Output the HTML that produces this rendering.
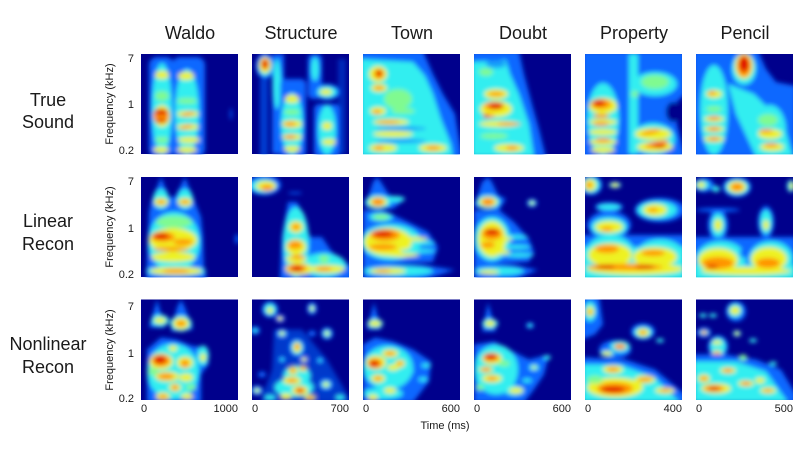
<!DOCTYPE html>
<html><head><meta charset="utf-8"><style>
html,body{margin:0;padding:0;background:#fff}
svg{display:block}
.b{fill:#0868ff}.c{fill:#32eef0}.g{fill:#80fa90}.y{fill:#eef224}.o{fill:#ff9400}.r{fill:#e01000}
text{font-family:"Liberation Sans",Arial,sans-serif;fill:#1a1a1a}
.t{font-size:18px;text-anchor:middle}
.k{font-size:11px;text-anchor:end}
.x{font-size:11px}
</style></head><body>
<svg width="800" height="454" viewBox="0 0 800 454" xmlns="http://www.w3.org/2000/svg">
<defs>
<clipPath id="cp"><rect x="0" y="0" width="97" height="100.5"/></clipPath>
<filter id="bl" x="-20%" y="-20%" width="140%" height="140%"><feGaussianBlur stdDeviation="2.4"/></filter>
</defs>
<rect width="800" height="454" fill="#fff"/>

<!-- titles -->
<text class="t" x="190" y="39">Waldo</text>
<text class="t" x="301" y="39">Structure</text>
<text class="t" x="412" y="39">Town</text>
<text class="t" x="523" y="39">Doubt</text>
<text class="t" x="634" y="39">Property</text>
<text class="t" x="745" y="39">Pencil</text>

<!-- row labels -->
<text class="t" x="48" y="106">True</text>
<text class="t" x="48" y="128">Sound</text>
<text class="t" x="48" y="227">Linear</text>
<text class="t" x="48" y="250">Recon</text>
<text class="t" x="48" y="350">Nonlinear</text>
<text class="t" x="48" y="373">Recon</text>

<!-- y axis labels -->
<text class="x" text-anchor="middle" transform="translate(113,104) rotate(-90)">Frequency (kHz)</text>
<text class="x" text-anchor="middle" transform="translate(113,227) rotate(-90)">Frequency (kHz)</text>
<text class="x" text-anchor="middle" transform="translate(113,350) rotate(-90)">Frequency (kHz)</text>
<text class="k" x="134" y="62">7</text><text class="k" x="134" y="108">1</text><text class="k" x="134" y="154">0.2</text>
<text class="k" x="134" y="185">7</text><text class="k" x="134" y="232">1</text><text class="k" x="134" y="278">0.2</text>
<text class="k" x="134" y="310">7</text><text class="k" x="134" y="357">1</text><text class="k" x="134" y="402">0.2</text>

<!-- x tick labels -->
<text class="x" x="141" y="412">0</text><text class="k" x="238" y="412">1000</text>
<text class="x" x="252" y="412">0</text><text class="k" x="349" y="412">700</text>
<text class="x" x="363" y="412">0</text><text class="k" x="460" y="412">600</text>
<text class="x" x="474" y="412">0</text><text class="k" x="571" y="412">600</text>
<text class="x" x="585" y="412">0</text><text class="k" x="682" y="412">400</text>
<text class="x" x="696" y="412">0</text><text class="k" x="793" y="412">500</text>
<text class="x" text-anchor="middle" x="445" y="429">Time (ms)</text>

<!-- ================= ROW 1 ================= -->
<!-- R1P1 Waldo -->
<g transform="translate(141,54)"><rect width="97" height="100" fill="#00008c"/>
<g clip-path="url(#cp)"><g filter="url(#bl)">
<rect class="b" x="8" y="3" width="25" height="100" rx="8"/>
<rect class="b" x="31" y="3" width="33" height="100" rx="8"/>
<ellipse class="c" cx="21" cy="55" rx="10" ry="46"/>
<ellipse class="c" cx="46" cy="58" rx="12" ry="43"/>
<ellipse class="y" cx="21" cy="21" rx="7" ry="4"/>
<ellipse class="g" cx="21" cy="42" rx="7" ry="5"/>
<ellipse class="y" cx="21" cy="62" rx="8" ry="11"/>
<ellipse class="g" cx="21" cy="86" rx="7" ry="3"/>
<ellipse class="y" cx="20" cy="96" rx="8" ry="3"/>
<ellipse class="y" cx="45" cy="22" rx="8" ry="4"/>
<ellipse class="g" cx="46" cy="47" rx="10" ry="3"/>
<ellipse class="y" cx="47" cy="60" rx="11" ry="3"/>
<ellipse class="y" cx="47" cy="73" rx="11" ry="3"/>
<ellipse class="y" cx="48" cy="86" rx="11" ry="3"/>
<ellipse class="y" cx="46" cy="96" rx="10" ry="3"/>
<ellipse class="o" cx="20" cy="62" rx="8" ry="7"/>
<ellipse class="r" cx="20" cy="58" rx="7" ry="3"/>
<ellipse class="r" cx="20" cy="67" rx="6" ry="2"/>
<ellipse class="o" cx="47" cy="60" rx="7" ry="1.6" transform="rotate(-15 47 60)"/>
<ellipse class="o" cx="45" cy="73" rx="7" ry="1.6" transform="rotate(-15 45 73)"/>
<ellipse class="b" cx="90" cy="60" rx="1" ry="6"/>
</g></g></g>

<!-- R1P2 Structure -->
<g transform="translate(252,54)"><rect width="97" height="100" fill="#00008c"/>
<g clip-path="url(#cp)"><g filter="url(#bl)">
<rect class="b" x="8" y="25" width="8" height="78" opacity="0.6"/>
<ellipse class="b" cx="13" cy="12" rx="9" ry="13"/>
<ellipse class="c" cx="13" cy="12" rx="7" ry="10"/>
<ellipse class="y" cx="13" cy="11" rx="6" ry="8"/>
<ellipse class="o" cx="13" cy="10" rx="4" ry="6"/>
<ellipse class="r" cx="13" cy="10" rx="3" ry="4"/>
<rect class="b" x="20" y="0" width="12" height="100"/>
<ellipse class="c" cx="25" cy="30" rx="4" ry="25"/>
<rect class="b" x="28" y="25" width="26" height="78" rx="5"/>
<ellipse class="c" cx="40" cy="70" rx="11" ry="31"/>
<ellipse class="y" cx="40" cy="45" rx="7" ry="4"/>
<ellipse class="g" cx="40" cy="58" rx="8" ry="3"/>
<ellipse class="y" cx="40" cy="70" rx="10" ry="4"/>
<ellipse class="y" cx="40" cy="83" rx="10" ry="3"/>
<ellipse class="y" cx="40" cy="95" rx="8" ry="3"/>
<ellipse class="o" cx="38" cy="70" rx="6" ry="2"/>
<ellipse class="o" cx="38" cy="83" rx="6" ry="2"/>
<rect class="b" x="56" y="0" width="14" height="45" rx="5"/>
<ellipse class="c" cx="63" cy="15" rx="4" ry="12"/>
<ellipse class="b" cx="75" cy="38" rx="13" ry="8"/>
<ellipse class="c" cx="75" cy="38" rx="10" ry="6"/>
<ellipse class="y" cx="74" cy="38" rx="6" ry="3"/>
<rect class="b" x="62" y="50" width="26" height="53" rx="5"/>
<ellipse class="c" cx="75" cy="76" rx="9" ry="25"/>
<ellipse class="y" cx="75" cy="72" rx="5" ry="4"/>
<ellipse class="y" cx="77" cy="88" rx="7" ry="3"/>
<rect class="b" x="86" y="5" width="8" height="95" opacity="0.4"/>
</g></g></g>

<!-- R1P3 Town -->
<g transform="translate(363,54)"><rect width="97" height="100" fill="#00008c"/>
<g clip-path="url(#cp)"><g filter="url(#bl)">
<polygon class="b" points="-3,-3 60,-3 70,20 80,40 92,60 99,103 -3,103"/>
<polygon class="c" points="-3,5 50,8 62,22 70,40 78,65 88,90 90,103 -3,103"/>
<ellipse class="y" cx="15" cy="20" rx="9" ry="8"/>
<ellipse class="y" cx="16" cy="34" rx="8" ry="4"/>
<ellipse class="g" cx="35" cy="45" rx="14" ry="10"/>
<ellipse class="y" cx="15" cy="57" rx="8" ry="4"/>
<ellipse class="g" cx="40" cy="57" rx="12" ry="3"/>
<ellipse class="y" cx="28" cy="68" rx="18" ry="3"/>
<ellipse class="y" cx="30" cy="80" rx="20" ry="3"/>
<ellipse class="y" cx="20" cy="94" rx="14" ry="4"/>
<ellipse class="y" cx="70" cy="94" rx="14" ry="4"/>
<ellipse class="b" cx="38" cy="74.5" rx="25" ry="1.5"/>
<ellipse class="b" cx="38" cy="87" rx="25" ry="1.5"/>
<ellipse class="o" cx="16" cy="20" rx="5" ry="5"/>
<ellipse class="o" cx="16" cy="34" rx="5" ry="2"/>
<ellipse class="o" cx="14" cy="58" rx="4" ry="2"/>
<ellipse class="o" cx="25" cy="68" rx="12" ry="1.5"/>
<ellipse class="o" cx="16" cy="94" rx="5" ry="2"/>
<ellipse class="o" cx="70" cy="94" rx="7" ry="2"/>
<ellipse class="r" cx="16" cy="19" rx="3" ry="3"/>
</g></g></g>

<!-- R1P4 Doubt -->
<g transform="translate(474,54)"><rect width="97" height="100" fill="#00008c"/>
<g clip-path="url(#cp)"><g filter="url(#bl)">
<polygon class="b" points="-3,-3 45,-3 50,20 58,50 65,75 72,103 -3,103"/>
<polygon class="c" points="-3,8 32,6 36,20 45,40 55,70 60,103 -3,103"/>
<ellipse class="b" cx="22" cy="10" rx="10" ry="4" opacity="0.6"/>
<ellipse class="g" cx="12" cy="18" rx="7" ry="4"/>
<ellipse class="y" cx="22" cy="40" rx="12" ry="5"/>
<ellipse class="y" cx="22" cy="55" rx="16" ry="8"/>
<ellipse class="y" cx="25" cy="70" rx="20" ry="3"/>
<ellipse class="g" cx="20" cy="82" rx="14" ry="3"/>
<ellipse class="y" cx="35" cy="94" rx="15" ry="4"/>
<ellipse class="o" cx="22" cy="40" rx="8" ry="2"/>
<ellipse class="o" cx="20" cy="52" rx="10" ry="4"/>
<ellipse class="o" cx="15" cy="62" rx="6" ry="2"/>
<ellipse class="o" cx="35" cy="70" rx="12" ry="1.5"/>
<ellipse class="o" cx="38" cy="94" rx="6" ry="2"/>
<ellipse class="r" cx="22" cy="52" rx="7" ry="3"/>
<ellipse class="r" cx="12" cy="62" rx="3" ry="2"/>
</g></g></g>

<!-- R1P5 Property -->
<g transform="translate(585,54)"><rect width="97" height="100" fill="#00008c"/>
<g clip-path="url(#cp)"><g filter="url(#bl)">
<polygon class="b" points="-3,-3 100,-3 100,40 90,50 92,70 100,103 -3,103"/>
<ellipse fill="#00008c" cx="88" cy="58" rx="7" ry="10"/>
<ellipse class="c" cx="18" cy="65" rx="16" ry="36"/>
<rect class="c" x="44" y="0" width="9" height="100"/>
<ellipse class="c" cx="70" cy="30" rx="22" ry="12"/>
<ellipse class="c" cx="68" cy="85" rx="22" ry="16"/>
<ellipse class="y" cx="18" cy="52" rx="14" ry="8"/>
<ellipse class="y" cx="18" cy="68" rx="14" ry="3"/>
<ellipse class="y" cx="18" cy="78" rx="14" ry="3"/>
<ellipse class="y" cx="18" cy="88" rx="14" ry="3"/>
<ellipse class="y" cx="18" cy="96" rx="12" ry="3"/>
<ellipse class="g" cx="70" cy="28" rx="14" ry="7"/>
<ellipse class="g" cx="50" cy="40" rx="4" ry="3"/>
<ellipse class="y" cx="68" cy="80" rx="18" ry="6"/>
<ellipse class="y" cx="70" cy="93" rx="18" ry="5"/>
<ellipse class="o" cx="16" cy="50" rx="10" ry="5"/>
<ellipse class="o" cx="16" cy="62" rx="8" ry="2"/>
<ellipse class="o" cx="16" cy="70" rx="8" ry="2"/>
<ellipse class="o" cx="18" cy="86" rx="8" ry="2"/>
<ellipse class="o" cx="66" cy="78" rx="10" ry="2" transform="rotate(-12 66 78)"/>
<ellipse class="o" cx="72" cy="90" rx="12" ry="3" transform="rotate(-12 72 90)"/>
<ellipse class="r" cx="14" cy="49" rx="6" ry="3"/>
<ellipse class="r" cx="74" cy="92" rx="7" ry="2"/>
</g></g></g>

<!-- R1P6 Pencil -->
<g transform="translate(696,54)"><rect width="97" height="100" fill="#00008c"/>
<g clip-path="url(#cp)"><g filter="url(#bl)">
<polygon class="b" points="-3,-3 62,-3 70,15 80,28 100,32 100,103 -3,103"/>
<ellipse class="c" cx="18" cy="56" rx="14" ry="45"/>
<ellipse class="c" cx="48" cy="15" rx="12" ry="16"/>
<polygon class="c" points="32,30 58,40 88,70 97,103 60,103 40,60"/>
<ellipse class="c" cx="74" cy="76" rx="16" ry="25"/>
<ellipse class="y" cx="18" cy="40" rx="8" ry="4"/>
<ellipse class="g" cx="18" cy="55" rx="8" ry="3"/>
<ellipse class="y" cx="18" cy="65" rx="10" ry="3"/>
<ellipse class="y" cx="18" cy="75" rx="10" ry="3"/>
<ellipse class="y" cx="18" cy="85" rx="10" ry="3"/>
<ellipse class="y" cx="48" cy="12" rx="9" ry="13"/>
<ellipse class="g" cx="72" cy="66" rx="10" ry="6"/>
<ellipse class="y" cx="74" cy="80" rx="12" ry="5"/>
<ellipse class="y" cx="76" cy="93" rx="12" ry="4"/>
<ellipse class="o" cx="48" cy="12" rx="7" ry="11"/>
<ellipse class="o" cx="16" cy="39" rx="4" ry="2"/>
<ellipse class="o" cx="18" cy="64" rx="6" ry="2"/>
<ellipse class="o" cx="18" cy="75" rx="6" ry="2"/>
<ellipse class="o" cx="18" cy="85" rx="6" ry="2"/>
<ellipse class="o" cx="70" cy="77" rx="7" ry="2"/>
<ellipse class="o" cx="75" cy="91" rx="7" ry="2"/>
<ellipse class="r" cx="48" cy="10" rx="5" ry="8"/>
</g></g></g>

<!-- ================= ROW 2 ================= -->
<!-- R2P1 Waldo -->
<g transform="translate(141,177)"><rect width="97" height="100" fill="#00008c"/>
<g clip-path="url(#cp)"><g filter="url(#bl)">
<polygon class="b" points="10,25 20,0 28,20 34,20 44,0 54,25 60,40 62,60 63,90 66,103 5,103 7,60 8,35"/>
<ellipse class="c" cx="20" cy="22" rx="8" ry="10"/>
<ellipse class="c" cx="44" cy="22" rx="8" ry="10"/>
<ellipse class="c" cx="33" cy="65" rx="26" ry="30"/>
<ellipse class="c" cx="35" cy="94" rx="30" ry="5"/>
<ellipse class="y" cx="20" cy="25" rx="7" ry="4"/>
<ellipse class="y" cx="44" cy="25" rx="7" ry="4"/>
<ellipse class="g" cx="33" cy="45" rx="18" ry="6"/>
<ellipse class="y" cx="32" cy="63" rx="24" ry="12"/>
<ellipse class="y" cx="32" cy="80" rx="22" ry="5"/>
<ellipse class="y" cx="35" cy="94" rx="26" ry="4"/>
<ellipse class="o" cx="20" cy="25" rx="4" ry="2"/>
<ellipse class="o" cx="44" cy="25" rx="4" ry="2"/>
<ellipse class="o" cx="22" cy="60" rx="12" ry="5"/>
<ellipse class="o" cx="42" cy="65" rx="10" ry="3"/>
<ellipse class="o" cx="30" cy="72" rx="18" ry="2"/>
<ellipse class="o" cx="35" cy="94" rx="14" ry="2"/>
<ellipse class="r" cx="20" cy="59" rx="8" ry="3"/>
<ellipse class="b" cx="96" cy="62" rx="2" ry="5"/>
</g></g></g>

<!-- R2P2 Structure -->
<g transform="translate(252,177)"><rect width="97" height="100" fill="#00008c"/>
<g clip-path="url(#cp)"><g filter="url(#bl)">
<ellipse class="b" cx="12" cy="8" rx="17" ry="10"/>
<ellipse class="c" cx="12" cy="9" rx="13" ry="7"/>
<ellipse class="y" cx="14" cy="9" rx="10" ry="5"/>
<ellipse class="o" cx="15" cy="11" rx="6" ry="3"/>
<ellipse class="b" cx="43" cy="16" rx="7" ry="1"/>
<polygon class="b" points="36,25 45,25 50,35 58,60 70,60 80,75 100,90 100,103 28,103 30,60"/>
<ellipse class="c" cx="44" cy="65" rx="13" ry="35"/>
<ellipse class="c" cx="72" cy="88" rx="22" ry="12"/>
<ellipse class="y" cx="44" cy="50" rx="7" ry="6"/>
<ellipse class="y" cx="44" cy="70" rx="10" ry="8"/>
<ellipse class="y" cx="44" cy="82" rx="10" ry="4"/>
<ellipse class="y" cx="47" cy="92" rx="14" ry="6"/>
<ellipse class="g" cx="72" cy="82" rx="5" ry="4"/>
<ellipse class="y" cx="75" cy="92" rx="18" ry="4"/>
<ellipse class="o" cx="44" cy="50" rx="4" ry="3"/>
<ellipse class="o" cx="43" cy="68" rx="7" ry="4"/>
<ellipse class="o" cx="46" cy="80" rx="7" ry="2"/>
<ellipse class="o" cx="45" cy="91" rx="10" ry="4"/>
<ellipse class="o" cx="72" cy="92" rx="8" ry="2"/>
<ellipse class="r" cx="45" cy="92" rx="6" ry="3"/>
</g></g></g>

<!-- R2P3 Town -->
<g transform="translate(363,177)"><rect width="97" height="100" fill="#00008c"/>
<g clip-path="url(#cp)"><g filter="url(#bl)">
<polygon class="b" points="2,30 10,5 14,0 18,5 26,18 42,22 30,32"/>
<ellipse class="c" cx="15" cy="25" rx="13" ry="7"/>
<ellipse class="c" cx="32" cy="22" rx="10" ry="3"/>
<ellipse class="y" cx="15" cy="25" rx="9" ry="5"/>
<ellipse class="o" cx="15" cy="25" rx="6" ry="4"/>
<polygon class="b" points="0,33 20,33 45,45 65,55 75,70 70,85 0,88"/>
<ellipse class="c" cx="18" cy="40" rx="12" ry="4"/>
<ellipse class="g" cx="18" cy="40" rx="8" ry="3"/>
<ellipse class="c" cx="28" cy="65" rx="30" ry="18"/>
<ellipse class="y" cx="25" cy="65" rx="24" ry="14"/>
<ellipse class="y" cx="50" cy="62" rx="15" ry="2"/>
<ellipse class="c" cx="60" cy="66" rx="12" ry="2"/>
<ellipse class="c" cx="55" cy="74" rx="18" ry="2"/>
<ellipse class="y" cx="40" cy="78" rx="16" ry="2"/>
<ellipse class="o" cx="22" cy="58" rx="15" ry="6"/>
<ellipse class="o" cx="20" cy="70" rx="14" ry="3"/>
<ellipse class="r" cx="20" cy="57" rx="10" ry="3"/>
<polygon class="b" points="0,86 60,88 92,93 60,103 0,103"/>
<ellipse class="c" cx="35" cy="94" rx="35" ry="5"/>
<ellipse class="y" cx="25" cy="94" rx="18" ry="3"/>
<ellipse class="o" cx="20" cy="94" rx="8" ry="1.5"/>
</g></g></g>

<!-- R2P4 Doubt -->
<g transform="translate(474,177)"><rect width="97" height="100" fill="#00008c"/>
<g clip-path="url(#cp)"><g filter="url(#bl)">
<polygon class="b" points="0,30 8,5 14,0 18,5 24,18 32,22 25,33"/>
<ellipse class="c" cx="14" cy="25" rx="12" ry="7"/>
<ellipse class="y" cx="14" cy="25" rx="9" ry="5"/>
<ellipse class="o" cx="14" cy="25" rx="6" ry="4"/>
<ellipse class="b" cx="58" cy="26" rx="5" ry="4"/>
<ellipse class="c" cx="58" cy="26" rx="4" ry="3"/>
<ellipse class="y" cx="58" cy="26" rx="2" ry="1.5"/>
<polygon class="b" points="0,33 25,33 40,45 55,62 60,75 55,85 0,88"/>
<ellipse class="c" cx="18" cy="62" rx="18" ry="22"/>
<ellipse class="c" cx="40" cy="60" rx="14" ry="2"/>
<ellipse class="c" cx="42" cy="70" rx="15" ry="2"/>
<ellipse class="c" cx="45" cy="78" rx="15" ry="2"/>
<ellipse class="y" cx="18" cy="62" rx="14" ry="18"/>
<ellipse class="y" cx="30" cy="62" rx="8" ry="2"/>
<ellipse class="y" cx="28" cy="75" rx="8" ry="2"/>
<ellipse class="o" cx="18" cy="57" rx="10" ry="6"/>
<ellipse class="o" cx="14" cy="68" rx="7" ry="3"/>
<ellipse class="r" cx="18" cy="55" rx="7" ry="3"/>
<polygon class="b" points="0,86 40,88 64,93 40,103 0,103"/>
<ellipse class="c" cx="25" cy="94" rx="25" ry="4"/>
<ellipse class="y" cx="15" cy="95" rx="10" ry="2"/>
</g></g></g>

<!-- R2P5 Property -->
<g transform="translate(585,177)"><rect width="97" height="100" fill="#00008c"/>
<g clip-path="url(#cp)"><g filter="url(#bl)">
<ellipse class="b" cx="6" cy="8" rx="11" ry="10"/>
<ellipse class="c" cx="6" cy="8" rx="9" ry="8"/>
<ellipse class="y" cx="5" cy="8" rx="6" ry="6"/>
<ellipse class="o" cx="4" cy="8" rx="3" ry="3"/>
<ellipse class="c" cx="30" cy="8" rx="6" ry="3"/>
<ellipse class="y" cx="30" cy="8" rx="4" ry="2"/>
<ellipse class="b" cx="24" cy="30" rx="14" ry="5"/>
<ellipse class="c" cx="24" cy="30" rx="12" ry="3"/>
<ellipse class="b" cx="24" cy="48" rx="22" ry="14"/>
<ellipse class="c" cx="24" cy="50" rx="18" ry="10"/>
<ellipse class="y" cx="24" cy="50" rx="14" ry="6"/>
<ellipse class="o" cx="22" cy="52" rx="6" ry="2"/>
<ellipse class="b" cx="75" cy="33" rx="25" ry="12"/>
<ellipse class="c" cx="72" cy="33" rx="20" ry="9"/>
<ellipse class="y" cx="70" cy="33" rx="12" ry="6"/>
<ellipse class="o" cx="68" cy="33" rx="5" ry="2"/>
<rect class="b" x="-3" y="58" width="103" height="45"/>
<rect class="c" x="-3" y="70" width="103" height="33"/>
<ellipse class="c" cx="25" cy="78" rx="25" ry="20"/>
<ellipse class="c" cx="75" cy="80" rx="25" ry="18"/>
<ellipse class="y" cx="25" cy="78" rx="22" ry="12"/>
<ellipse class="y" cx="70" cy="80" rx="22" ry="10"/>
<ellipse class="y" cx="50" cy="92" rx="48" ry="6"/>
<ellipse class="o" cx="22" cy="72" rx="12" ry="4"/>
<ellipse class="o" cx="68" cy="76" rx="12" ry="3"/>
<ellipse class="o" cx="40" cy="90" rx="38" ry="3"/>
<ellipse class="r" cx="20" cy="90" rx="10" ry="2"/>
<ellipse class="r" cx="60" cy="90" rx="10" ry="2"/>
</g></g></g>

<!-- R2P6 Pencil -->
<g transform="translate(696,177)"><rect width="97" height="100" fill="#00008c"/>
<g clip-path="url(#cp)"><g filter="url(#bl)">
<ellipse class="b" cx="41" cy="10" rx="14" ry="10"/>
<ellipse class="c" cx="41" cy="10" rx="12" ry="8"/>
<ellipse class="y" cx="41" cy="10" rx="9" ry="6"/>
<ellipse class="o" cx="41" cy="10" rx="6" ry="4"/>
<ellipse class="b" cx="8" cy="8" rx="10" ry="7"/>
<ellipse class="c" cx="6" cy="8" rx="7" ry="5"/>
<ellipse class="y" cx="5" cy="8" rx="4" ry="3"/>
<ellipse class="c" cx="95" cy="9" rx="4" ry="6"/>
<ellipse class="y" cx="96" cy="9" rx="2" ry="4"/>
<ellipse class="c" cx="20" cy="12" rx="4" ry="3"/>
<ellipse class="b" cx="22" cy="33" rx="22" ry="2"/>
<ellipse class="b" cx="22" cy="48" rx="10" ry="16"/>
<ellipse class="c" cx="22" cy="48" rx="7" ry="12"/>
<ellipse class="y" cx="22" cy="48" rx="4" ry="6"/>
<ellipse class="b" cx="70" cy="45" rx="8" ry="16"/>
<ellipse class="c" cx="70" cy="45" rx="6" ry="12"/>
<ellipse class="y" cx="70" cy="48" rx="3" ry="5"/>
<polygon class="b" points="-3,60 100,60 100,103 -3,103"/>
<ellipse class="c" cx="25" cy="82" rx="25" ry="18"/>
<ellipse class="c" cx="75" cy="82" rx="22" ry="18"/>
<rect class="c" x="-3" y="88" width="103" height="15"/>
<ellipse class="y" cx="22" cy="83" rx="20" ry="12"/>
<ellipse class="y" cx="73" cy="82" rx="18" ry="12"/>
<ellipse class="y" cx="50" cy="94" rx="45" ry="4"/>
<ellipse class="o" cx="22" cy="86" rx="16" ry="6"/>
<ellipse class="o" cx="72" cy="86" rx="12" ry="5"/>
<ellipse class="r" cx="16" cy="90" rx="6" ry="2"/>
<ellipse class="b" cx="48" cy="76" rx="4" ry="5"/>
</g></g></g>

<!-- ================= ROW 3 ================= -->
<!-- R3P1 Waldo -->
<g transform="translate(141,299.5)"><rect width="97" height="100.5" fill="#00008c"/>
<g clip-path="url(#cp)"><g filter="url(#bl)">
<polygon class="b" points="8,28 16,0 24,28"/>
<ellipse class="c" cx="19" cy="21" rx="9" ry="6"/>
<ellipse class="y" cx="19" cy="21" rx="6" ry="3"/>
<polygon class="b" points="30,32 36,8 40,0 44,8 52,30"/>
<ellipse class="c" cx="40" cy="24" rx="11" ry="8"/>
<ellipse class="y" cx="40" cy="24" rx="8" ry="6"/>
<ellipse class="o" cx="40" cy="24" rx="5" ry="3"/>
<polygon class="b" points="6,50 20,38 35,40 50,46 62,48 68,64 60,75 60,103 6,103"/>
<ellipse class="c" cx="32" cy="72" rx="26" ry="28"/>
<ellipse class="c" cx="62" cy="56" rx="6" ry="10"/>
<ellipse class="y" cx="62" cy="58" rx="3" ry="4"/>
<ellipse class="y" cx="32" cy="49" rx="4" ry="3"/>
<ellipse class="y" cx="20" cy="62" rx="12" ry="8"/>
<ellipse class="y" cx="44" cy="63" rx="8" ry="6"/>
<ellipse class="y" cx="26" cy="77" rx="12" ry="5"/>
<ellipse class="y" cx="45" cy="78" rx="7" ry="4"/>
<ellipse class="y" cx="34" cy="88" rx="6" ry="4"/>
<ellipse class="y" cx="22" cy="97" rx="7" ry="4"/>
<ellipse class="y" cx="46" cy="97" rx="6" ry="3"/>
<ellipse class="g" cx="12" cy="72" rx="5" ry="4"/>
<ellipse class="g" cx="50" cy="88" rx="5" ry="3"/>
<ellipse class="o" cx="20" cy="61" rx="9" ry="6"/>
<ellipse class="o" cx="44" cy="64" rx="4" ry="4"/>
<ellipse class="o" cx="25" cy="77" rx="8" ry="3"/>
<ellipse class="o" cx="34" cy="88" rx="3" ry="3"/>
<ellipse class="o" cx="22" cy="97" rx="4" ry="2"/>
<ellipse class="r" cx="19" cy="60" rx="6" ry="4"/>
</g></g></g>

<!-- R3P2 Structure -->
<g transform="translate(252,299.5)"><rect width="97" height="100.5" fill="#00008c"/>
<g clip-path="url(#cp)"><g filter="url(#bl)">
<polygon class="b" points="22,30 50,30 75,60 100,103 8,103 20,70" opacity="0.55"/>
<ellipse class="b" cx="18" cy="10" rx="8" ry="8"/><ellipse class="c" cx="18" cy="10" rx="6" ry="6"/><ellipse class="y" cx="18" cy="11" rx="3" ry="3"/>
<ellipse class="b" cx="28" cy="19" rx="5" ry="4"/><ellipse class="y" cx="28" cy="19" rx="3" ry="2"/>
<ellipse class="b" cx="3" cy="31" rx="5" ry="4"/><ellipse class="c" cx="3" cy="31" rx="3" ry="2"/>
<ellipse class="b" cx="30" cy="34" rx="6" ry="5"/><ellipse class="c" cx="30" cy="34" rx="4" ry="3"/><ellipse class="y" cx="30" cy="34" rx="2" ry="2"/>
<ellipse class="b" cx="45" cy="48" rx="8" ry="9"/><ellipse class="c" cx="45" cy="48" rx="6" ry="7"/><ellipse class="y" cx="45" cy="48" rx="4" ry="5"/><ellipse class="o" cx="45" cy="47" rx="2.5" ry="3"/>
<ellipse class="b" cx="60" cy="9" rx="5" ry="6"/><ellipse class="c" cx="60" cy="9" rx="3" ry="4"/><ellipse class="y" cx="60" cy="9" rx="2" ry="2"/>
<ellipse class="b" cx="60" cy="34" rx="4" ry="3"/>
<ellipse class="b" cx="75" cy="34" rx="6" ry="6"/><ellipse class="c" cx="75" cy="34" rx="4" ry="4"/><ellipse class="y" cx="75" cy="34" rx="2" ry="2"/>
<ellipse class="b" cx="68" cy="61" rx="4" ry="3"/><ellipse class="c" cx="68" cy="61" rx="2" ry="2"/>
<ellipse class="b" cx="52" cy="60" rx="5" ry="4"/><ellipse class="y" cx="52" cy="60" rx="3" ry="2"/>
<ellipse class="b" cx="30" cy="60" rx="4" ry="3"/><ellipse class="c" cx="30" cy="60" rx="2" ry="2"/>
<ellipse class="b" cx="10" cy="75" rx="4" ry="3"/>
<ellipse class="c" cx="45" cy="76" rx="14" ry="10"/>
<ellipse class="y" cx="41" cy="71" rx="5" ry="4"/><ellipse class="o" cx="41" cy="71" rx="3" ry="2"/>
<ellipse class="y" cx="51" cy="69" rx="4" ry="3"/><ellipse class="o" cx="51" cy="69" rx="2" ry="2"/>
<ellipse class="c" cx="42" cy="88" rx="20" ry="10"/>
<ellipse class="y" cx="40" cy="81" rx="9" ry="4"/><ellipse class="o" cx="40" cy="81" rx="5" ry="2"/>
<ellipse class="y" cx="48" cy="91" rx="8" ry="5"/><ellipse class="o" cx="48" cy="91" rx="5" ry="3"/><ellipse class="r" cx="48" cy="91" rx="3" ry="2"/>
<ellipse class="y" cx="58" cy="98" rx="6" ry="3"/><ellipse class="o" cx="58" cy="98" rx="3" ry="2"/>
<ellipse class="b" cx="74" cy="85" rx="7" ry="6"/><ellipse class="c" cx="74" cy="85" rx="5" ry="4"/><ellipse class="y" cx="74" cy="85" rx="3" ry="2"/>
<ellipse class="c" cx="88" cy="98" rx="5" ry="3"/>
<ellipse class="b" cx="5" cy="91" rx="6" ry="5"/><ellipse class="c" cx="5" cy="91" rx="4" ry="3"/><ellipse class="y" cx="5" cy="91" rx="2" ry="2"/>
<ellipse class="c" cx="18" cy="98" rx="6" ry="3"/>
<ellipse class="y" cx="34" cy="97" rx="6" ry="3"/>
</g></g></g>

<!-- R3P3 Town -->
<g transform="translate(363,299.5)"><rect width="97" height="100.5" fill="#00008c"/>
<g clip-path="url(#cp)"><g filter="url(#bl)">
<polygon class="b" points="4,30 11,3 18,30"/>
<ellipse class="c" cx="12" cy="24" rx="8" ry="5"/>
<ellipse class="y" cx="12" cy="24" rx="6" ry="3"/>
<polygon class="b" points="0,45 12,38 30,42 50,50 68,62 66,82 50,103 0,103"/>
<ellipse class="c" cx="25" cy="68" rx="25" ry="22"/>
<ellipse class="c" cx="63" cy="66" rx="5" ry="2"/>
<ellipse class="c" cx="60" cy="80" rx="5" ry="2"/>
<ellipse class="c" cx="45" cy="72" rx="6" ry="2"/>
<ellipse class="c" cx="20" cy="94" rx="20" ry="6"/>
<ellipse class="y" cx="13" cy="63" rx="10" ry="7"/>
<ellipse class="y" cx="27" cy="54" rx="8" ry="4"/>
<ellipse class="y" cx="37" cy="64" rx="5" ry="4"/>
<ellipse class="y" cx="30" cy="68" rx="6" ry="3"/>
<ellipse class="y" cx="15" cy="79" rx="7" ry="4"/>
<ellipse class="y" cx="27" cy="91" rx="6" ry="3"/>
<ellipse class="y" cx="10" cy="98" rx="5" ry="3"/>
<ellipse class="o" cx="12" cy="64" rx="7" ry="5"/>
<ellipse class="o" cx="27" cy="54" rx="5" ry="2"/>
<ellipse class="o" cx="37" cy="64" rx="3" ry="2"/>
<ellipse class="o" cx="15" cy="79" rx="4" ry="2"/>
<ellipse class="r" cx="11" cy="64" rx="5" ry="3"/>
</g></g></g>

<!-- R3P4 Doubt -->
<g transform="translate(474,299.5)"><rect width="97" height="100.5" fill="#00008c"/>
<g clip-path="url(#cp)"><g filter="url(#bl)">
<polygon class="b" points="8,32 14,3 22,32"/>
<ellipse class="c" cx="16" cy="24" rx="8" ry="5"/>
<ellipse class="y" cx="16" cy="24" rx="5" ry="3"/>
<ellipse class="b" cx="56" cy="26" rx="4" ry="3"/>
<ellipse class="c" cx="56" cy="26" rx="2.5" ry="2"/>
<polygon class="b" points="0,45 20,42 35,50 55,60 75,55 70,75 60,90 50,103 0,103"/>
<ellipse class="c" cx="22" cy="70" rx="22" ry="25"/>
<ellipse class="c" cx="60" cy="68" rx="5" ry="3"/>
<ellipse class="y" cx="60" cy="68" rx="2" ry="1.5"/>
<ellipse class="c" cx="73" cy="58" rx="4" ry="2"/>
<ellipse class="c" cx="53" cy="81" rx="5" ry="2"/>
<ellipse class="c" cx="40" cy="91" rx="10" ry="5"/>
<ellipse class="y" cx="18" cy="59" rx="10" ry="6"/>
<ellipse class="y" cx="12" cy="70" rx="7" ry="3"/>
<ellipse class="y" cx="18" cy="79" rx="10" ry="4"/>
<ellipse class="y" cx="42" cy="91" rx="7" ry="3"/>
<ellipse class="g" cx="30" cy="64" rx="6" ry="3"/>
<ellipse class="g" cx="6" cy="88" rx="4" ry="3"/>
<ellipse class="o" cx="17" cy="58" rx="8" ry="4"/>
<ellipse class="o" cx="12" cy="70" rx="5" ry="2"/>
<ellipse class="o" cx="18" cy="79" rx="5" ry="2"/>
<ellipse class="r" cx="17" cy="57" rx="6" ry="3"/>
</g></g></g>

<!-- R3P5 Property -->
<g transform="translate(585,299.5)"><rect width="97" height="100.5" fill="#00008c"/>
<g clip-path="url(#cp)"><g filter="url(#bl)">
<polygon class="b" points="-3,-3 14,-3 18,25 10,35 -3,40"/>
<ellipse class="c" cx="5" cy="12" rx="6" ry="10"/>
<ellipse class="y" cx="5" cy="12" rx="4" ry="5"/>
<ellipse class="o" cx="5" cy="13" rx="2" ry="2"/>
<ellipse class="b" cx="58" cy="32" rx="12" ry="8"/>
<ellipse class="c" cx="58" cy="33" rx="9" ry="6"/>
<ellipse class="y" cx="58" cy="33" rx="6" ry="4"/>
<ellipse class="o" cx="58" cy="33" rx="3" ry="2"/>
<ellipse class="c" cx="75" cy="41" rx="4" ry="2"/>
<ellipse class="b" cx="30" cy="50" rx="16" ry="9"/>
<ellipse class="c" cx="35" cy="47" rx="10" ry="6"/>
<ellipse class="o" cx="35" cy="47" rx="6" ry="3"/>
<ellipse class="c" cx="22" cy="54" rx="7" ry="3"/>
<ellipse class="y" cx="22" cy="54" rx="5" ry="2"/>
<ellipse class="c" cx="4" cy="61" rx="4" ry="3"/>
<polygon class="b" points="-3,58 40,60 70,70 100,95 100,103 -3,103"/>
<polygon class="c" points="-3,65 35,65 70,78 95,103 -3,103"/>
<ellipse class="y" cx="28" cy="70" rx="10" ry="4"/>
<ellipse class="y" cx="30" cy="88" rx="28" ry="10"/>
<ellipse class="y" cx="60" cy="80" rx="10" ry="4"/>
<ellipse class="y" cx="80" cy="91" rx="10" ry="3"/>
<ellipse class="g" cx="10" cy="80" rx="8" ry="4"/>
<ellipse class="o" cx="28" cy="70" rx="6" ry="2"/>
<ellipse class="o" cx="30" cy="89" rx="18" ry="6"/>
<ellipse class="o" cx="60" cy="80" rx="7" ry="2"/>
<ellipse class="o" cx="80" cy="91" rx="5" ry="1.5"/>
<ellipse class="r" cx="28" cy="90" rx="12" ry="3"/>
</g></g></g>

<!-- R3P6 Pencil -->
<g transform="translate(696,299.5)"><rect width="97" height="100.5" fill="#00008c"/>
<g clip-path="url(#cp)"><g filter="url(#bl)">
<ellipse class="b" cx="40" cy="12" rx="10" ry="10"/>
<ellipse class="c" cx="39" cy="11" rx="7" ry="7"/>
<ellipse class="y" cx="39" cy="11" rx="5" ry="4"/>
<ellipse class="c" cx="7" cy="16" rx="4" ry="2"/>
<ellipse class="c" cx="17" cy="16" rx="4" ry="2"/>
<ellipse class="b" cx="8" cy="33" rx="7" ry="5"/>
<ellipse class="c" cx="8" cy="33" rx="5" ry="3"/>
<ellipse class="o" cx="8" cy="33" rx="3" ry="2"/>
<ellipse class="c" cx="41" cy="34" rx="4" ry="3"/>
<ellipse class="y" cx="41" cy="34" rx="2" ry="2"/>
<ellipse class="c" cx="57" cy="41" rx="4" ry="2"/>
<ellipse class="b" cx="22" cy="47" rx="10" ry="11"/>
<ellipse class="c" cx="22" cy="47" rx="8" ry="9"/>
<ellipse class="y" cx="21" cy="43" rx="5" ry="2"/>
<ellipse class="y" cx="21" cy="54" rx="5" ry="3"/>
<ellipse class="o" cx="21" cy="54" rx="3" ry="2"/>
<polygon class="b" points="-3,55 30,55 60,60 85,70 100,95 100,103 -3,103"/>
<polygon class="c" points="-3,62 40,62 70,72 92,103 -3,103"/>
<ellipse class="c" cx="77" cy="64" rx="4" ry="2"/>
<ellipse class="y" cx="8" cy="79" rx="6" ry="4"/>
<ellipse class="y" cx="32" cy="71" rx="8" ry="3"/>
<ellipse class="y" cx="20" cy="89" rx="15" ry="5"/>
<ellipse class="y" cx="50" cy="84" rx="8" ry="3"/>
<ellipse class="y" cx="64" cy="81" rx="5" ry="3"/>
<ellipse class="y" cx="72" cy="91" rx="8" ry="3"/>
<ellipse class="g" cx="47" cy="58" rx="4" ry="3"/>
<ellipse class="o" cx="8" cy="79" rx="4" ry="2"/>
<ellipse class="o" cx="32" cy="71" rx="5" ry="2"/>
<ellipse class="o" cx="18" cy="89" rx="10" ry="3"/>
<ellipse class="o" cx="50" cy="84" rx="5" ry="2"/>
<ellipse class="o" cx="72" cy="91" rx="5" ry="1.5"/>
<ellipse class="r" cx="18" cy="89" rx="6" ry="2"/>
</g></g></g>

</svg>
</body></html>
